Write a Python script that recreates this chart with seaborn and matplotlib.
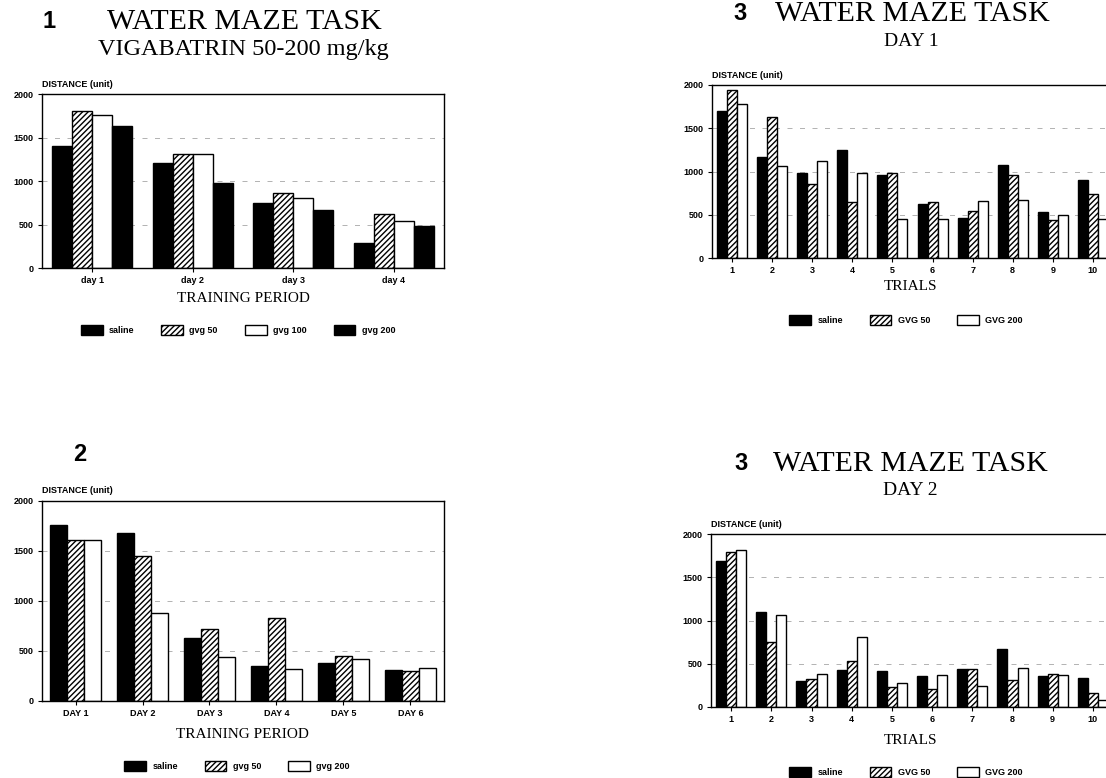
import pandas as pd
import matplotlib
matplotlib.use("Agg")
import matplotlib.pyplot as plt
import seaborn as sns
from matplotlib.patches import Patch

sns.set_style("ticks")
plt.rcParams["font.family"] = ["Liberation Sans", "DejaVu Sans"]
plt.rcParams["hatch.linewidth"] = 1.0
plt.rcParams["text.color"] = "black"
plt.rcParams["xtick.color"] = "black"
plt.rcParams["ytick.color"] = "black"
plt.rcParams["axes.labelcolor"] = "black"

W, H = 1106, 778

# ---------------- data ----------------
# panel 1: vigabatrin 50-200, 4 days
days_p1 = ["day 1", "day 2", "day 3", "day 4"]
groups_p1 = ["saline", "gvg 50", "gvg 100", "gvg 200"]
saline_p1 = [1400, 1205, 745, 290]
gvg50_p1 = [1800, 1315, 860, 625]
gvg100_p1 = [1760, 1310, 800, 535]
gvg200_p1 = [1635, 975, 670, 480]

# panel 2: 6 days
days_p2 = ["DAY 1", "DAY 2", "DAY 3", "DAY 4", "DAY 5", "DAY 6"]
groups_p2 = ["saline", "gvg 50", "gvg 200"]
saline_p2 = [1760, 1680, 630, 350, 380, 310]
gvg50_p2 = [1615, 1450, 720, 835, 455, 305]
gvg200_p2 = [1615, 880, 445, 320, 420, 330]

# panel 3: day 1 trials
trials = ["1", "2", "3", "4", "5", "6", "7", "8", "9", "10"]
groups_p3 = ["saline", "GVG 50", "GVG 200"]
saline_d1 = [1700, 1165, 985, 1250, 955, 620, 460, 1075, 535, 900]
gvg50_d1 = [1940, 1625, 855, 650, 980, 650, 545, 960, 445, 735]
gvg200_d1 = [1785, 1065, 1120, 985, 455, 450, 655, 665, 495, 455]

# panel 4: day 2 trials
saline_d2 = [1685, 1100, 300, 425, 415, 355, 445, 670, 360, 330]
gvg50_d2 = [1790, 750, 325, 530, 230, 205, 435, 315, 380, 165]
gvg200_d2 = [1815, 1060, 385, 805, 280, 365, 245, 455, 365, 80]


def px_rect(left, right, top, bottom):
    return [left / W, 1 - bottom / H, (right - left) / W, (bottom - top) / H]


def bar_panel(ax, cats, groups, series, colors, hatches, width):
    rows = []
    for g, vals in zip(groups, series):
        for c, v in zip(cats, vals):
            rows.append({"cat": c, "group": g, "value": v})
    df = pd.DataFrame(rows)
    sns.barplot(data=df, x="cat", y="value", hue="group", order=cats,
                hue_order=groups, palette=dict(zip(groups, colors)),
                width=width, gap=0, saturation=1, edgecolor="black",
                linewidth=1.0, errorbar=None, legend=False, ax=ax)
    for cont, h in zip(ax.containers, hatches):
        for bar in cont:
            bar.set_hatch(h)
    ax.set_xlim(-0.5, len(cats) - 0.5)
    ax.set_ylim(0, 2000)
    ax.set_yticks([0, 500, 1000, 1500, 2000])
    ax.yaxis.grid(True, linestyle=(0, (6, 9)), color="0.65", linewidth=0.6)
    ax.set_axisbelow(True)
    ax.set_ylabel("")
    ax.set_xlabel("")
    for s in ax.spines.values():
        s.set_visible(True)
        s.set_linewidth(1.0)
        s.set_color("black")
    ax.tick_params(axis="both", length=3, width=0.8, labelsize=6.5, pad=3)
    for t in ax.get_xticklabels() + ax.get_yticklabels():
        t.set_fontweight("bold")
    ax.text(0, 1.03, "DISTANCE (unit)", transform=ax.transAxes, ha="left",
            va="bottom", fontsize=6.5, fontweight="bold")


def legend_at(fig, groups, colors, hatches, x, y, colsp):
    handles = [Patch(facecolor=c, edgecolor="black", hatch=h, linewidth=1.0)
               for c, h in zip(colors, hatches)]
    leg = fig.legend(handles, groups, loc="center", bbox_to_anchor=(x / W, 1 - y / H),
                     ncol=len(groups), frameon=False, fontsize=6.5,
                     handlelength=2.4, handleheight=1.3, handletextpad=0.7,
                     columnspacing=colsp)
    for t in leg.get_texts():
        t.set_fontweight("bold")


def ftext(fig, x, y, s, **kw):
    fig.text(x / W, 1 - y / H, s, ha="center", va="center", **kw)


fig = plt.figure(figsize=(W / 100, H / 100), dpi=100)
serif = ["Liberation Serif", "DejaVu Serif"]

# ---------------- panel 1 ----------------
ax1 = fig.add_axes(px_rect(42, 444, 94, 268))
c1 = ["black", "white", "white", "black"]
h1 = ["", "//////", "", ""]
bar_panel(ax1, days_p1, groups_p1, [saline_p1, gvg50_p1, gvg100_p1, gvg200_p1], c1, h1, 0.8)
ftext(fig, 49, 22, "1", fontsize=17, fontweight="bold")
ftext(fig, 244, 22, "WATER MAZE TASK", fontsize=21.5, family=serif)
ftext(fig, 243, 50, "VIGABATRIN 50-200 mg/kg", fontsize=17.5, family=serif)
ftext(fig, 243, 298, "TRAINING PERIOD", fontsize=11, family=serif)
legend_at(fig, groups_p1, c1, h1, 238, 330, 3.0)

# ---------------- panel 2 ----------------
ax2 = fig.add_axes(px_rect(42, 444, 501, 701))
c2 = ["black", "white", "white"]
h2 = ["", "//////", ""]
bar_panel(ax2, days_p2, groups_p2, [saline_p2, gvg50_p2, gvg200_p2], c2, h2, 0.75)
ftext(fig, 80, 455, "2", fontsize=17, fontweight="bold")
ftext(fig, 242, 735, "TRAINING PERIOD", fontsize=11, family=serif)
legend_at(fig, groups_p2, c2, h2, 237, 766, 3.0)

# ---------------- panel 3 ----------------
ax3 = fig.add_axes(px_rect(712, 1113, 85, 258))
bar_panel(ax3, trials, groups_p3, [saline_d1, gvg50_d1, gvg200_d1], c2, h2, 0.75)
ftext(fig, 740, 14, "3", fontsize=17, fontweight="bold")
ftext(fig, 912, 14, "WATER MAZE TASK", fontsize=21.5, family=serif)
ftext(fig, 911, 41, "DAY 1", fontsize=14, family=serif)
ftext(fig, 911, 287, "TRIALS", fontsize=11, family=serif)
legend_at(fig, groups_p3, c2, h2, 906, 320, 3.0)

# ---------------- panel 4 ----------------
ax4 = fig.add_axes(px_rect(711, 1113, 534, 707))
bar_panel(ax4, trials, groups_p3, [saline_d2, gvg50_d2, gvg200_d2], c2, h2, 0.75)
ftext(fig, 741, 464, "3", fontsize=17, fontweight="bold")
ftext(fig, 910, 464, "WATER MAZE TASK", fontsize=21.5, family=serif)
ftext(fig, 910, 491, "DAY 2", fontsize=14, family=serif)
ftext(fig, 911, 740, "TRIALS", fontsize=11, family=serif)
legend_at(fig, groups_p3, c2, h2, 906, 772, 3.0)

fig.savefig("out.png", dpi=100)
